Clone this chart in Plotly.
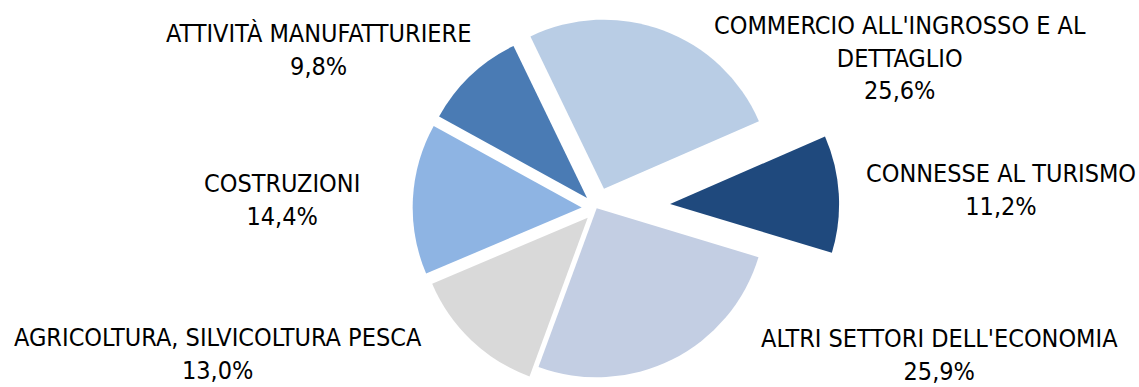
import math
import plotly.graph_objects as go

# ---- data ----
categories = [
    "COMMERCIO ALL'INGROSSO E AL<br>DETTAGLIO",
    "CONNESSE AL TURISMO",
    "ALTRI SETTORI DELL'ECONOMIA",
    "AGRICOLTURA, SILVICOLTURA PESCA",
    "COSTRUZIONI",
    "ATTIVITÀ MANUFATTURIERE",
]
values = [25.6, 11.2, 25.9, 13.0, 14.4, 9.8]
value_labels = ["25,6%", "11,2%", "25,9%", "13,0%", "14,4%", "9,8%"]

# ---- styles ----
colors = ["#B9CDE5", "#1F497D", "#C3CEE3", "#D9D9D9", "#8EB4E3", "#4A7BB4"]
pulls = [0.124, 0.435, 0.0, 0.077, 0.089, 0.083]   # exploded distance as fraction of radius
rotation = -25.8

W, H = 1139, 387
center_px = (596.7, 208.3)
radius_px = 169.0

# label placement (pixel centres of the label blocks)
label_pos = [(900, 58), (1001, 190), (940, 355), (218, 354), (282, 200), (318, 50)]
FONT = "Liberation Sans Narrow, Arial Narrow, DejaVu Sans Condensed, sans-serif"

fig = go.Figure()
total = sum(values)
cum = 0.0
for i, v in enumerate(values):
    mid = math.radians(rotation + 360.0 * (cum + v / 2.0) / total)
    cum += v
    d = pulls[i] * radius_px
    cx = center_px[0] + d * math.sin(mid)
    cy = center_px[1] - d * math.cos(mid)
    dom_x = [max(0.0, (cx - radius_px) / W), min(1.0, (cx + radius_px) / W)]
    dom_y = [max(0.0, 1 - (cy + radius_px) / H), min(1.0, 1 - (cy - radius_px) / H)]
    slice_colors = [colors[j] if j == i else "rgba(0,0,0,0)" for j in range(len(values))]
    fig.add_trace(go.Pie(
        labels=categories,
        values=values,
        sort=False,
        direction="clockwise",
        rotation=rotation,
        marker=dict(colors=slice_colors, line=dict(width=0)),
        textinfo="none",
        hoverinfo="skip",
        showlegend=False,
        domain=dict(x=dom_x, y=dom_y),
    ))

for i, (px, py) in enumerate(label_pos):
    fig.add_annotation(
        x=px / W, y=1 - py / H, xref="paper", yref="paper",
        text=f"{categories[i]}<br>{value_labels[i]}",
        showarrow=False, align="center", xanchor="center", yanchor="middle",
        font=dict(family=FONT, size=25, color="#000000"),
    )

fig.update_layout(
    width=W, height=H,
    margin=dict(l=0, r=0, t=0, b=0),
    paper_bgcolor="white", plot_bgcolor="white",
    showlegend=False,
)

fig.write_html("out.html")
